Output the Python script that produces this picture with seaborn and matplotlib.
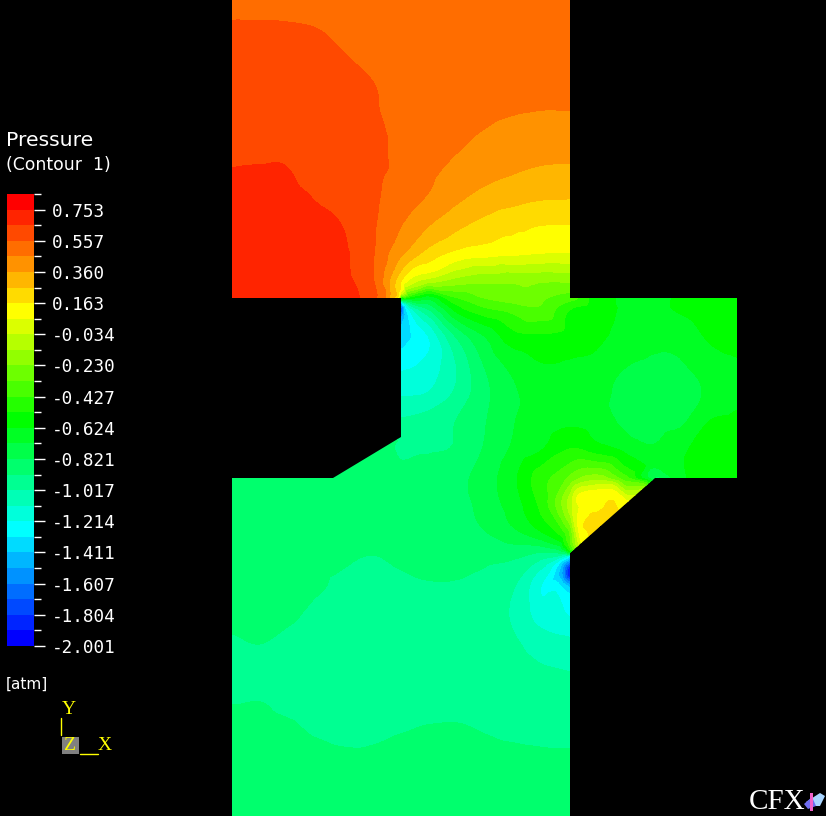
"""
Pressure contour of a stepped duct, redrawn from a CFX post-processor image.
Field readings are taken from the colours, as positions on the legend bar
(0 = top of the bar, 29 = bottom), and turned into atm with the legend scale.
"""
import numpy as np
import matplotlib
matplotlib.use("Agg")
import matplotlib.pyplot as plt
import matplotlib.tri as mtri
from matplotlib.colors import ListedColormap
from matplotlib.patches import Polygon, Rectangle
from matplotlib.path import Path
import seaborn as sns

# legend
TICK_LABELS = ["0.753", "0.557", "0.360", "0.163", "-0.034", "-0.230", "-0.427", "-0.624",
               "-0.821", "-1.017", "-1.214", "-1.411", "-1.607", "-1.804", "-2.001"]
SCALE_TOP = 0.851
SCALE_BOTTOM = -2.001
N_BANDS = 29

# duct outline, in image pixels
DOMAIN_X = [232, 570, 570, 737, 737, 655, 570, 570, 232, 232, 333, 401, 401, 232]
DOMAIN_Y = [0, 0, 298, 298, 478, 478, 553, 816, 816, 478, 478, 437, 298, 298]

# inlet block
INLET_X = [232, 260, 288, 316, 344, 372, 401, 428, 456, 484, 512, 540, 570]
INLET_Y = [0, 28, 56, 84, 112, 140, 168, 196, 224, 252, 280]
INLET_BANDS = [
    [3.2, 3.2, 3.2, 3.25, 3.3, 3.35, 3.4, 3.4, 3.4, 3.4, 3.4, 3.4, 3.4],
    [2.93, 2.93, 2.95, 3.0, 3.15, 3.3, 3.45, 3.5, 3.5, 3.5, 3.5, 3.5, 3.5],
    [2.75, 2.72, 2.75, 2.82, 2.98, 3.2, 3.4, 3.5, 3.55, 3.6, 3.6, 3.6, 3.65],
    [2.6, 2.55, 2.58, 2.65, 2.8, 2.98, 3.3, 3.55, 3.65, 3.7, 3.75, 3.8, 3.8],
    [2.4, 2.35, 2.38, 2.45, 2.65, 2.93, 3.2, 3.5, 3.7, 3.8, 3.95, 4.02, 4.02],
    [2.2, 2.15, 2.2, 2.35, 2.55, 2.85, 3.15, 3.5, 3.85, 4.15, 4.45, 4.6, 4.6],
    [2.0, 1.98, 2.0, 2.3, 2.58, 2.85, 3.15, 3.75, 4.2, 4.55, 4.85, 5.05, 5.1],
    [1.85, 1.8, 1.85, 2.05, 2.45, 2.85, 3.45, 4.05, 4.75, 5.3, 5.6, 5.85, 5.9],
    [1.75, 1.72, 1.75, 1.85, 2.05, 2.85, 3.95, 4.9, 5.7, 6.3, 6.7, 6.95, 6.98],
    [1.7, 1.68, 1.7, 1.75, 1.9, 2.85, 4.75, 6.3, 7.15, 7.5, 7.7, 7.9, 8.0],
    [1.65, 1.66, 1.68, 1.72, 1.85, 2.85, 6.9, 9.3, 10.3, 10.7, 10.8, 10.8, 10.8],
]

# full width line along the step, y = 298
STEP_X = [232, 260, 288, 316, 344, 372, 401, 428, 456, 484, 512, 540, 570,
          596, 624, 652, 680, 708, 737]
STEP_BANDS = [1.65, 1.64, 1.65, 1.68, 1.75, 2.6, 14.0, 15.7, 13.1, 12.0, 11.5, 11.85, 12.6,
              14.5, 15.1, 15.2, 14.9, 14.6, 14.4]

# middle block, right of the step
THROAT_X = [401, 428, 456, 484, 512, 540, 570, 596, 624, 652, 680, 708, 737]
THROAT_Y = [308, 336, 364, 392, 420, 448]
THROAT_BANDS = [
    [26.0, 17.8, 14.5, 13.1, 12.55, 12.1, 13.9, 14.5, 15.1, 15.15, 14.9, 14.5, 14.3],
    [22.6, 21.0, 17.9, 16.0, 14.4, 14.15, 14.4, 14.8, 15.3, 15.7, 15.6, 14.9, 14.6],
    [21.3, 20.7, 19.0, 16.95, 15.7, 15.05, 15.1, 15.2, 15.9, 16.15, 16.1, 15.4, 15.1],
    [20.2, 20.0, 18.85, 17.3, 16.2, 15.5, 15.35, 15.5, 16.4, 16.6, 16.5, 15.85, 15.3],
    [18.9, 18.6, 18.0, 17.1, 16.1, 15.5, 15.2, 15.5, 16.2, 16.55, 16.3, 15.05, 14.8],
    [18.2, 18.1, 17.9, 16.95, 15.9, 15.15, 14.05, 14.6, 15.3, 15.9, 15.2, 14.7, 14.5],
]

# y = 478 and y = 504 run further right than the outlet
LOWER_STEP_X = [232, 260, 288, 316, 344, 372, 401, 428, 456, 484, 512, 540, 570,
                596, 624, 652, 680, 708, 737]
LOWER_STEP_BANDS = [17.3, 17.3, 17.3, 17.35, 17.4, 17.5, 17.6, 17.7, 17.3, 16.55, 15.3, 13.5, 11.8,
                    10.5, 12.5, 16.5, 15.2, 14.6, 14.5]
ROW_504_X = [232, 260, 288, 316, 344, 372, 401, 428, 456, 484, 512, 540, 570, 596]
ROW_504_BANDS = [17.45, 17.45, 17.45, 17.45, 17.5, 17.5, 17.6, 17.6, 17.35, 16.65, 15.55, 13.8,
                 9.5, 7.4]

# outlet block
OUTLET_X = [232, 260, 288, 316, 344, 372, 401, 428, 456, 484, 512, 540, 570]
OUTLET_Y = [532, 560, 588, 616, 644, 672, 700, 728, 756, 784, 816]
OUTLET_BANDS = [
    [17.55, 17.55, 17.6, 17.65, 17.7, 17.7, 17.7, 17.7, 17.5, 17.05, 16.25, 15.1, 11.8],
    [17.75, 17.8, 17.85, 17.9, 17.95, 18.05, 17.9, 17.75, 17.75, 17.85, 18.0, 19.0, 24.0],
    [17.65, 17.7, 17.8, 17.95, 18.1, 18.3, 18.2, 18.1, 18.1, 18.25, 18.9, 20.95, 23.0],
    [17.85, 17.9, 17.9, 18.15, 18.3, 18.45, 18.45, 18.4, 18.4, 18.5, 19.1, 20.4, 21.05],
    [18.1, 18.0, 18.2, 18.35, 18.45, 18.5, 18.55, 18.55, 18.55, 18.6, 18.8, 19.4, 19.75],
    [18.4, 18.45, 18.5, 18.5, 18.55, 18.55, 18.55, 18.55, 18.55, 18.55, 18.6, 18.85, 19.0],
    [18.05, 18.02, 18.2, 18.3, 18.35, 18.35, 18.3, 18.25, 18.25, 18.3, 18.35, 18.4, 18.45],
    [17.8, 17.8, 17.9, 18.1, 18.2, 18.15, 18.05, 17.97, 17.95, 18.05, 18.15, 18.2, 18.25],
    [17.6, 17.6, 17.65, 17.8, 17.9, 17.9, 17.8, 17.75, 17.75, 17.8, 17.85, 17.9, 17.9],
    [17.45, 17.45, 17.5, 17.55, 17.6, 17.6, 17.55, 17.5, 17.5, 17.55, 17.55, 17.6, 17.6],
    [17.3, 17.3, 17.3, 17.3, 17.3, 17.3, 17.3, 17.3, 17.3, 17.3, 17.3, 17.3, 17.3],
]

# extra readings where the bands crowd together at the corners
CORNER_X = [401, 392, 396, 388, 405, 410, 415, 392, 396, 399, 401, 404, 410, 405, 401, 410,
            401, 333, 367, 385, 655,
            570, 580, 590, 600, 612, 624, 636, 645,
            570, 570, 570, 566, 562, 560, 555, 565, 558, 565, 565, 662,
            577, 597, 613, 628, 578, 586, 655]
CORNER_Y = [292, 290, 296, 296, 295, 297, 298, 298, 298, 298, 303, 303, 303, 315, 320, 325,
            437, 478, 457, 446, 478,
            553, 544, 535, 526, 516, 505, 495, 487,
            557, 565, 572, 565, 572, 585, 560, 556, 553, 548, 533, 468,
            497, 490, 490, 501, 527, 510, 460]
CORNER_BANDS = [8.0, 5.5, 6.0, 4.5, 11.0, 14.0, 15.0, 6.0, 7.0, 8.5, 24.0, 20.0, 18.0, 23.0, 23.5, 22.0,
                18.05, 17.4, 17.5, 17.7, 17.0,
                16.0, 8.5, 6.9, 6.4, 6.4, 7.6, 9.0, 11.0,
                23.0, 27.0, 28.5, 25.0, 24.0, 22.0, 20.0, 20.0, 18.0, 15.0, 13.0, 15.8,
                8.0, 8.0, 8.0, 8.0, 8.0, 7.3, 15.4]


def collect_points():
    xs, ys, bands = [], [], []

    def add_block(block_x, block_y, rows):
        for y, row in zip(block_y, rows):
            xs.extend(block_x)
            ys.extend([y] * len(block_x))
            bands.extend(row)

    add_block(INLET_X, INLET_Y, INLET_BANDS)
    add_block(STEP_X, [298], [STEP_BANDS])
    add_block(THROAT_X, THROAT_Y, THROAT_BANDS)
    add_block(LOWER_STEP_X, [478], [LOWER_STEP_BANDS])
    add_block(ROW_504_X, [504], [ROW_504_BANDS])
    add_block(OUTLET_X, OUTLET_Y, OUTLET_BANDS)
    xs.extend(CORNER_X)
    ys.extend(CORNER_Y)
    bands.extend(CORNER_BANDS)
    return np.array(xs, float), np.array(ys, float), np.array(bands, float)


sns.set_theme(style="dark", rc={"figure.facecolor": "black", "axes.facecolor": "black",
                                "text.color": "white", "font.family": "DejaVu Sans"})

W, H = 826, 816
fig = plt.figure(figsize=(W / 100, H / 100), dpi=100)
ax = fig.add_axes([0, 0, 1, 1])
ax.set_xlim(0, W)
ax.set_ylim(H, 0)
ax.axis("off")

# 29 hue steps of 8.57 degrees, red to blue
band_colors = sns.hls_palette(42, h=0, l=0.5, s=1)[:N_BANDS]
step = (SCALE_TOP - SCALE_BOTTOM) / N_BANDS
levels = np.linspace(SCALE_BOTTOM, SCALE_TOP, N_BANDS + 1)

px, py, read_bands = collect_points()
pressure = SCALE_TOP - step * read_bands

outline = Path(np.column_stack([DOMAIN_X + DOMAIN_X[:1], DOMAIN_Y + DOMAIN_Y[:1]]))
tri = mtri.Triangulation(px, py)
centroid = np.column_stack([px[tri.triangles].mean(axis=1), py[tri.triangles].mean(axis=1)])
tri.set_mask(~outline.contains_points(centroid))

# smoother bands than straight facets on the coarse readings
refiner = mtri.UniformTriRefiner(tri)
smooth = mtri.CubicTriInterpolator(tri, pressure, kind="geom")
fine_tri, fine_p = refiner.refine_field(pressure, triinterpolator=smooth, subdiv=3)
fine_p = np.clip(fine_p, SCALE_BOTTOM + 1e-3, SCALE_TOP - 1e-3)

field = ax.tricontourf(fine_tri, fine_p, levels=levels, colors=band_colors[::-1], antialiased=False)
field.set_clip_path(Polygon(outline.vertices, transform=ax.transData))

# legend bar
bar_ax = fig.add_axes([7 / W, 1 - 646 / H, 27 / W, 452 / H])
bar = np.arange(N_BANDS).reshape(-1, 1)
sns.heatmap(bar, ax=bar_ax, cmap=ListedColormap(band_colors), cbar=False,
            xticklabels=False, yticklabels=False)
bar_ax.yaxis.tick_right()
bar_ax.set_yticks(np.arange(1, N_BANDS + 1, 2))
bar_ax.set_yticklabels(TICK_LABELS, rotation=0, ha="left", color="white", fontsize=12.7,
                       family="DejaVu Sans Mono")
bar_ax.set_yticks(np.arange(0, N_BANDS + 1, 2), minor=True)
bar_ax.tick_params(axis="y", which="major", length=8, width=1, color="white", pad=5, right=True)
bar_ax.tick_params(axis="y", which="minor", length=5, width=1, color="white", right=True)

ax.text(6, 141, "Pressure", color="white", fontsize=14.7, va="center", ha="left")
ax.text(6, 165, "(Contour  1)", color="white", fontsize=12.4, va="center", ha="left")
ax.text(6, 684, "[atm]", color="white", fontsize=11, va="center", ha="left")

# axis triad
YELLOW = "#ffff00"
ax.add_patch(Rectangle((62, 737), 17, 17, color="#808080", lw=0))
ax.plot([61, 61], [718, 735], color=YELLOW, lw=1)
ax.plot([80, 98], [754, 754], color=YELLOW, lw=1)
ax.text(68.5, 709, "Y", color=YELLOW, fontsize=14, family="Liberation Serif", ha="center", va="center")
ax.text(69, 745.5, "Z", color=YELLOW, fontsize=14, family="Liberation Serif", ha="center", va="center")
ax.text(105, 746, "X", color=YELLOW, fontsize=14, family="Liberation Serif", ha="center", va="center")

# CFX mark
ax.text(749, 802, "CFX", color="white", fontsize=21, family="Liberation Serif", ha="left", va="center")
ax.add_patch(Polygon([(806, 802), (820, 793), (825, 796), (820, 806), (808, 806)], color="#a8d4ff", lw=0))
ax.add_patch(Polygon([(804, 804), (812, 797), (816, 806), (808, 809)], color="#6f6cf0", lw=0))
ax.add_patch(Rectangle((810, 793), 3, 18, color="#f060c8", lw=0))

fig.savefig("out.png", dpi=100, facecolor="black")
